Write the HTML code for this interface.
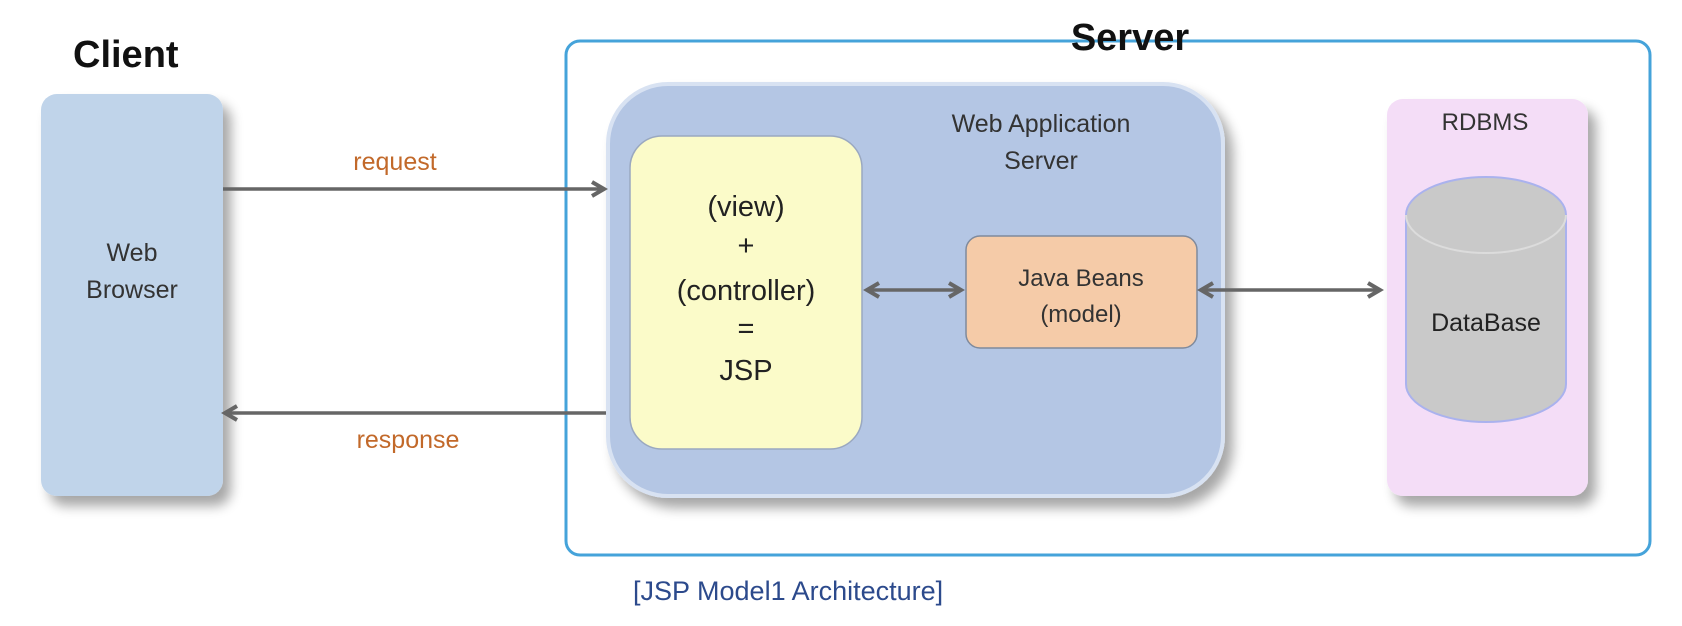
<!DOCTYPE html>
<html><head><meta charset="utf-8"><style>
html,body{margin:0;padding:0;background:#fff;}
svg{display:block;}
text{font-family:"Liberation Sans",sans-serif;}
</style></head><body>
<svg width="1682" height="626" viewBox="0 0 1682 626" xmlns="http://www.w3.org/2000/svg">
<defs>
<filter id="sh" x="-20%" y="-20%" width="150%" height="150%">
<feGaussianBlur in="SourceAlpha" stdDeviation="6"/>
<feOffset dx="8" dy="10" result="b"/>
<feComponentTransfer><feFuncA type="linear" slope="0.35"/></feComponentTransfer>
<feMerge><feMergeNode/><feMergeNode in="SourceGraphic"/></feMerge>
</filter>
<marker id="ah" markerWidth="18" markerHeight="18" refX="14" refY="9" orient="auto-start-reverse" markerUnits="userSpaceOnUse">
<path d="M2,2 L14,9 L2,16" fill="none" stroke="#666" stroke-width="4"/>
</marker>
</defs>
<rect x="566" y="41" width="1084" height="514" rx="14" fill="none" stroke="#45a3da" stroke-width="3"/>
<text x="73" y="67" font-size="38" font-weight="bold" fill="#111">Client</text>
<text x="1130" y="50" font-size="38" font-weight="bold" fill="#111" text-anchor="middle">Server</text>

<rect x="41" y="94" width="182" height="402" rx="16" fill="#c0d4ea" filter="url(#sh)"/>
<text x="132" y="261" font-size="25" fill="#333" text-anchor="middle">Web</text>
<text x="132" y="298" font-size="25" fill="#333" text-anchor="middle">Browser</text>

<rect x="608" y="84" width="615" height="412" rx="60" fill="#b4c6e4" stroke="#d8e2f2" stroke-width="4" filter="url(#sh)"/>
<text x="1041" y="132" font-size="25" fill="#333" text-anchor="middle">Web Application</text>
<text x="1041" y="169" font-size="25" fill="#333" text-anchor="middle">Server</text>

<rect x="630" y="136" width="232" height="313" rx="32" fill="#fbfbc9" stroke="#9aa8c0" stroke-width="1.5"/>
<g font-size="29" fill="#222" text-anchor="middle">
<text x="746" y="216">(view)</text>
<text x="746" y="255">+</text>
<text x="746" y="300">(controller)</text>
<text x="746" y="338">=</text>
<text x="746" y="380">JSP</text>
</g>

<rect x="966" y="236" width="231" height="112" rx="14" fill="#f5cba8" stroke="#7f8a9c" stroke-width="1.5"/>
<text x="1081" y="286" font-size="24" fill="#333" text-anchor="middle">Java Beans</text>
<text x="1081" y="322" font-size="24" fill="#333" text-anchor="middle">(model)</text>

<rect x="1387" y="99" width="201" height="397" rx="16" fill="#f4ddf7" filter="url(#sh)"/>
<text x="1485" y="130" font-size="24" fill="#333" text-anchor="middle">RDBMS</text>
<path d="M1406,215 A80,38 0 0 1 1566,215 L1566,384 A80,38 0 0 1 1406,384 Z" fill="#c9c9c9" stroke="#aab2ee" stroke-width="2"/>
<path d="M1406,215 A80,38 0 0 0 1566,215" fill="none" stroke="#dcdcdc" stroke-width="2"/>
<text x="1486" y="331" font-size="25" fill="#222" text-anchor="middle">DataBase</text>

<g stroke="#666" stroke-width="3.5" fill="none">
<line x1="223" y1="189" x2="604" y2="189" marker-end="url(#ah)"/>
<line x1="606" y1="413" x2="225" y2="413" marker-end="url(#ah)"/>
<line x1="867" y1="290" x2="961" y2="290" marker-start="url(#ah)" marker-end="url(#ah)"/>
<line x1="1201" y1="290" x2="1380" y2="290" marker-start="url(#ah)" marker-end="url(#ah)"/>
</g>
<text x="395" y="170" font-size="25" fill="#c2692a" text-anchor="middle">request</text>
<text x="408" y="448" font-size="25" fill="#c2692a" text-anchor="middle">response</text>
<text x="633" y="600" font-size="27" fill="#2c4a8c">[JSP Model1 Architecture]</text>
</svg>
</body></html>
